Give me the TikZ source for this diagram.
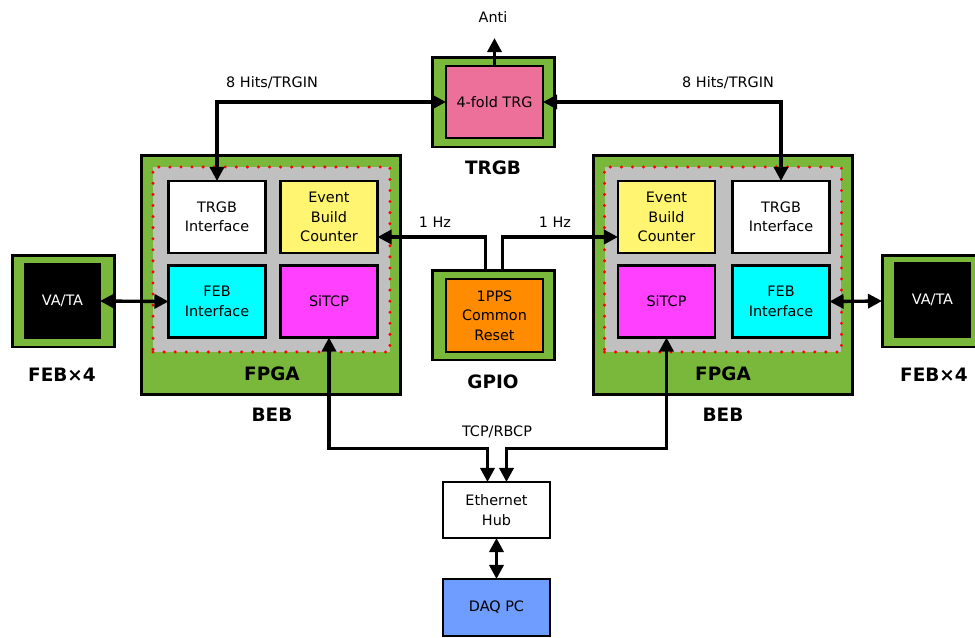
\documentclass[tikz,border=0pt]{standalone}
\usepackage{fontspec}
\setmainfont{DejaVu Sans}
\usetikzlibrary{positioning}
\usetikzlibrary{arrows.meta}

\definecolor{boardgreen}{RGB}{122,184,60}
\definecolor{panelgray}{RGB}{192,192,192}
\definecolor{ebcyellow}{RGB}{255,245,112}
\definecolor{febcyan}{RGB}{0,255,255}
\definecolor{sitcpmagenta}{RGB}{255,64,255}
\definecolor{trgpink}{RGB}{237,112,155}
\definecolor{ppsorange}{RGB}{255,140,0}
\definecolor{daqblue}{RGB}{110,156,255}

\begin{document}
\begin{tikzpicture}[
            x = 0.02cm,
            y = -0.02cm,
            font = \fontsize{8.2}{11}\selectfont,
            board/.style = {
                draw,
                fill = boardgreen,
                line width = 1.7pt,
                inner sep = 0pt,
                outer sep = 0pt
            },
            box/.style = {
                draw,
                fill = #1,
                line width = 1.3pt,
                align = center,
                minimum width = 1.94cm,
                minimum height = 1.44cm,
                inner sep = 0pt,
                outer sep = 0pt
            },
            box/.default = white,
            panel/.style = {
                fill = panelgray,
                draw = red,
                line width = 1.9pt,
                dash pattern = on 0pt off 6.3pt,
                line cap = round,
                minimum width = 4.74cm,
                minimum height = 3.7cm,
                inner sep = 0pt
            },
            title/.style = {font = \fontsize{10.5}{12}\selectfont\bfseries},
            sig/.style = {
                line width = 1.9pt,
                >={Triangle[length=8pt, width=8pt]}
            }
            ]
            \clip (0,0) rectangle (975,637);

            % trigger board
            \node[board, minimum width=2.46cm, minimum height=1.8cm] (trgb) at (493.5,102) {};
            \node[box=trgpink] (trg) at (494.5,102) {4-fold TRG};
            \node[title] at (493,168) {TRGB};
            \node (anti) at (493,17) {Anti};

            % GPIO board
            \node[board, minimum width=2.46cm, minimum height=1.8cm] (gpio) at (493.5,315) {};
            \node[box=ppsorange, minimum height=1.46cm] (pps) at (494.5,315.5) {1PPS\\Common\\Reset};
            \node[title] at (493,382) {GPIO};

            % left BEB
            \node[board, minimum width=5.2cm, minimum height=4.8cm] (bebL) at (271,275) {};
            \node[panel] (fpgaL) at (271.5,259.5) {};
            \node[title] at (272,374) {FPGA};
            \node[title] at (272,415) {BEB};
            \node[box] (trgbifL) at (217,217) {TRGB\\Interface};
            \node[box=ebcyellow] (ebcL) at (329,217) {Event\\Build\\Counter};
            \node[box=febcyan] (febifL) at (217,301.5) {FEB\\Interface};
            \node[box=sitcpmagenta] (sitcpL) at (329,301.5) {SiTCP};

            % right BEB
            \node[board, minimum width=5.2cm, minimum height=4.8cm] (bebR) at (723,275) {};
            \node[panel] (fpgaR) at (723,259.5) {};
            \node[title] at (723,374) {FPGA};
            \node[title] at (723,415) {BEB};
            \node[box=ebcyellow] (ebcR) at (666.5,217) {Event\\Build\\Counter};
            \node[box] (trgbifR) at (781,217) {TRGB\\Interface};
            \node[box=sitcpmagenta] (sitcpR) at (666.5,301.5) {SiTCP};
            \node[box=febcyan] (febifR) at (781,301.5) {FEB\\Interface};

            % front-end boards
            \node[board, minimum width=2.06cm, minimum height=1.84cm] (febL) at (63.5,301) {};
            \node[box=black, text=white, minimum width=1.5cm, minimum height=1.48cm] (vataL) at (62.5,301) {VA/TA};
            \node[title] at (62,375) {FEB×4};
            \node[board, minimum width=2.06cm, minimum height=1.84cm] (febR) at (933.5,301) {};
            \node[box=black, text=white, minimum width=1.5cm, minimum height=1.48cm] (vataR) at (932.5,300) {VA/TA};
            \node[title] at (934,375) {FEB×4};

            % network
            \node[box, minimum width=2.14cm, minimum height=1.12cm] (hub) at (496.5,510) {Ethernet\\Hub};
            \node[box=daqblue, minimum width=2.14cm, minimum height=1.14cm] (daq) at (496.5,607.5) {DAQ PC};

            % trigger lines
            \draw[sig, <->] (trgbifL.north) |- (trg.west);
            \draw[sig, <->] (trg.east) -| (trgbifR.north);
            \draw[sig, ->] (trg.north) -- ++(0,-28);
            \node at (272,83) {8 Hits/TRGIN};
            \node at (728,83) {8 Hits/TRGIN};

            % 1 Hz reset
            \draw[sig, ->] ([shift={(-8,0)}]gpio.north) |- ([shift={(0,20)}]ebcL.east);
            \draw[sig, ->] ([shift={(9,0)}]gpio.north) |- ([shift={(0,20)}]ebcR.west);
            \node at (435,222) {1 Hz};
            \node at (555,222) {1 Hz};

            % front-end links
            \draw[sig, <->] (vataL.east) -- (febifL.west);
            \draw[sig, <->] (febifR.east) -- (febR.west);

            % SiTCP to hub
            \draw[sig, <->] (sitcpL.south) -- ++(0,111) -| ([shift={(-9,0)}]hub.north);
            \draw[sig, <->] (sitcpR.south) -- ++(0,111) -| ([shift={(10,0)}]hub.north);
            \node at (497,432) {TCP/RBCP};
            \draw[sig, <->] (hub.south) -- (daq.north);
        \end{tikzpicture}
\end{document}
